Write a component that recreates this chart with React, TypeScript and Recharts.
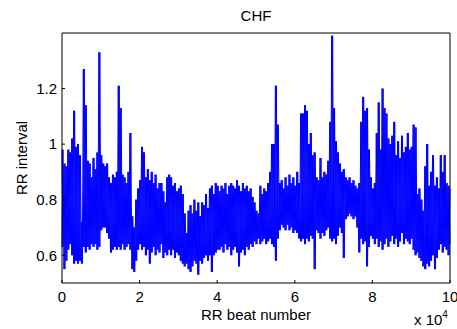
import { LineChart, Line, XAxis, YAxis } from 'recharts';

// RR intervals sampled every 500 beats: upper and lower edge of the trace
const beatStep = 500;

const rrHigh = [
  0.98, 0.93, 0.92, 0.98, 0.97, 1.02, 1.12, 0.99, 1.0, 0.96, 0.72, 1.27, 1.14, 0.94, 0.93, 0.88, 0.95, 0.91, 0.97, 1.33,
  0.96, 0.93, 0.92, 0.93, 0.88, 0.86, 0.89, 0.88, 0.9, 1.21, 1.13, 0.89, 0.88, 0.86, 0.9, 1.04, 0.74, 0.7, 0.8, 0.84,
  0.87, 0.99, 0.97, 0.88, 0.91, 0.87, 0.9, 0.86, 0.89, 0.84, 0.86, 0.86, 0.83, 0.79, 0.88, 0.89, 0.88, 0.85, 0.86, 0.83,
  0.84, 0.85, 0.82, 0.75, 0.68, 0.76, 0.78, 0.75, 0.8, 0.76, 0.79, 0.74, 0.79, 0.78, 0.82, 0.77, 0.84, 0.85, 0.82, 0.86,
  0.85, 0.83, 0.85, 0.84, 0.86, 0.82, 0.85, 0.86, 0.85, 0.84, 0.87, 0.85, 0.83, 0.86, 0.84, 0.85, 0.83, 0.84, 0.81, 0.79,
  0.76, 0.75, 0.85, 0.82, 0.84, 0.83, 0.86, 0.9, 1.0, 1.0, 1.21, 1.07, 0.86, 0.87, 0.84, 0.88, 0.85, 0.89, 0.86, 0.88,
  0.85, 0.9, 0.86, 1.11, 1.11, 1.14, 1.12, 1.0, 1.04, 0.96, 0.97, 0.88, 0.87, 0.95, 0.88, 0.9, 0.89, 0.94, 1.08, 1.39,
  1.13, 1.01, 0.97, 0.93, 0.9, 0.91, 0.88, 0.87, 0.88, 0.86, 0.87, 0.85, 0.84, 0.86, 1.08, 1.17, 1.12, 1.13, 0.98, 0.88,
  0.84, 0.86, 1.04, 1.15, 0.98, 1.2, 1.13, 1.11, 1.02, 1.0, 1.03, 1.08, 0.96, 1.01, 0.95, 1.03, 0.97, 0.99, 1.04, 0.98,
  0.99, 1.07, 1.06, 0.82, 0.84, 0.8, 0.76, 0.92, 1.0, 0.85, 0.9, 0.96, 0.85, 0.88, 0.84, 0.96, 0.9, 0.96, 0.86, 0.85,
  0.84,
];

const rrLow = [
  0.63, 0.55, 0.58, 0.62, 0.64, 0.6, 0.57, 0.58, 0.57, 0.58, 0.57, 0.63, 0.61, 0.63, 0.62, 0.64, 0.63, 0.64, 0.62, 0.63,
  0.69, 0.7, 0.7, 0.68, 0.66, 0.61, 0.62, 0.63, 0.62, 0.63, 0.62, 0.64, 0.62, 0.63, 0.64, 0.62, 0.55, 0.54, 0.58, 0.62,
  0.64, 0.62, 0.63, 0.6, 0.62, 0.57, 0.61, 0.63, 0.6, 0.62, 0.61, 0.64, 0.59, 0.61, 0.6, 0.62, 0.6, 0.62, 0.59, 0.61,
  0.6, 0.58, 0.57, 0.56, 0.57, 0.55, 0.54, 0.56, 0.58, 0.57, 0.53, 0.58, 0.57, 0.59, 0.6, 0.58, 0.6, 0.54, 0.6, 0.61,
  0.62, 0.62, 0.63, 0.61, 0.64, 0.62, 0.63, 0.6, 0.62, 0.63, 0.61, 0.56, 0.61, 0.62, 0.6, 0.63, 0.62, 0.64, 0.63, 0.65,
  0.64, 0.66, 0.64, 0.65, 0.66, 0.64, 0.65, 0.66, 0.64, 0.63, 0.58, 0.66, 0.69, 0.71, 0.7, 0.69, 0.71, 0.69, 0.7, 0.68,
  0.69, 0.68, 0.66, 0.65, 0.66, 0.64, 0.66, 0.65, 0.67, 0.66, 0.55, 0.69, 0.68, 0.66, 0.68, 0.67, 0.69, 0.7, 0.66, 0.65,
  0.66, 0.64, 0.67, 0.7, 0.68, 0.59, 0.73, 0.74, 0.75, 0.74, 0.73, 0.74, 0.7, 0.61, 0.66, 0.64, 0.65, 0.56, 0.63, 0.67,
  0.66, 0.64, 0.66, 0.63, 0.65, 0.62, 0.64, 0.66, 0.63, 0.65, 0.67, 0.64, 0.66, 0.63, 0.65, 0.68, 0.64, 0.66, 0.65, 0.64,
  0.66, 0.62, 0.6, 0.61, 0.59, 0.58, 0.56, 0.55, 0.57, 0.56, 0.58, 0.6, 0.55, 0.59, 0.62, 0.64, 0.61, 0.63, 0.62, 0.6,
  0.64,
];

const xTicks = [0, 20000, 40000, 60000, 80000, 100000];
const yTicks = [0.6, 0.8, 1, 1.2];
const xMax = 100000;

// two zig-zags in opposite phase between the upper and lower edge,
// so the dense trace fills in like the original
const rows: { x: number; a: number; b: number }[] = [];
rrHigh.forEach((hi, i) => {
  const x = i * beatStep;
  rows.push({ x, a: hi, b: rrLow[i] });
  if (x < xMax) rows.push({ x: x + beatStep / 2, a: rrLow[i], b: hi });
});

const font = '"Liberation Sans", Arial, sans-serif';
const tickStyle = { fill: '#000', fontSize: 15, fontFamily: font };
const axisLine = { stroke: '#000', strokeWidth: 1 };

export default function App() {
  return (
    <div style={{ position: 'absolute', left: 0, top: 0, width: 457, height: 329, background: '#fff' }}>
      <LineChart
        width={457}
        height={329}
        data={rows}
        margin={{ top: 32, right: 6, bottom: 16, left: 22 }}
      >
        <XAxis
          xAxisId="b"
          type="number"
          dataKey="x"
          domain={[0, xMax]}
          ticks={xTicks}
          tickFormatter={(v: number) => String(v / 10000)}
          interval={0}
          height={30}
          tickSize={-3}
          tickMargin={11}
          axisLine={axisLine}
          tickLine={{ stroke: '#000' }}
          tick={tickStyle}
        />
        <XAxis
          xAxisId="t"
          orientation="top"
          type="number"
          dataKey="x"
          domain={[0, xMax]}
          ticks={xTicks}
          interval={0}
          height={1}
          tickSize={-3}
          axisLine={axisLine}
          tickLine={{ stroke: '#000' }}
          tick={false}
        />
        <YAxis
          yAxisId="l"
          type="number"
          domain={[0.5, 1.4]}
          ticks={yTicks}
          interval={0}
          width={40}
          tickSize={-3}
          tickMargin={8}
          axisLine={axisLine}
          tickLine={{ stroke: '#000' }}
          tick={tickStyle}
        />
        <YAxis
          yAxisId="r"
          orientation="right"
          type="number"
          domain={[0.5, 1.4]}
          ticks={yTicks}
          interval={0}
          width={1}
          tickSize={-3}
          axisLine={axisLine}
          tickLine={{ stroke: '#000' }}
          tick={false}
        />
        <Line
          xAxisId="b"
          yAxisId="l"
          type="linear"
          dataKey="a"
          stroke="#0000ff"
          strokeWidth={1}
          dot={false}
          isAnimationActive={false}
        />
        <Line
          xAxisId="b"
          yAxisId="l"
          type="linear"
          dataKey="b"
          stroke="#0000ff"
          strokeWidth={1}
          dot={false}
          isAnimationActive={false}
        />
      </LineChart>
      <svg
        width={457}
        height={329}
        style={{ position: 'absolute', left: 0, top: 0, pointerEvents: 'none' }}
        fontFamily={font}
        fill="#000"
      >
        <text x={256} y={21} textAnchor="middle" fontSize={15}>CHF</text>
        <text x={256} y={319.5} textAnchor="middle" fontSize={15}>RR beat number</text>
        <text x={27} y={158} textAnchor="middle" fontSize={15} transform="rotate(-90, 27, 158)">
          RR interval
        </text>
        <text x={414} y={325} fontSize={15}>
          x 10
          <tspan fontSize={10} dy={-7}>4</tspan>
        </text>
      </svg>
    </div>
  );
}
